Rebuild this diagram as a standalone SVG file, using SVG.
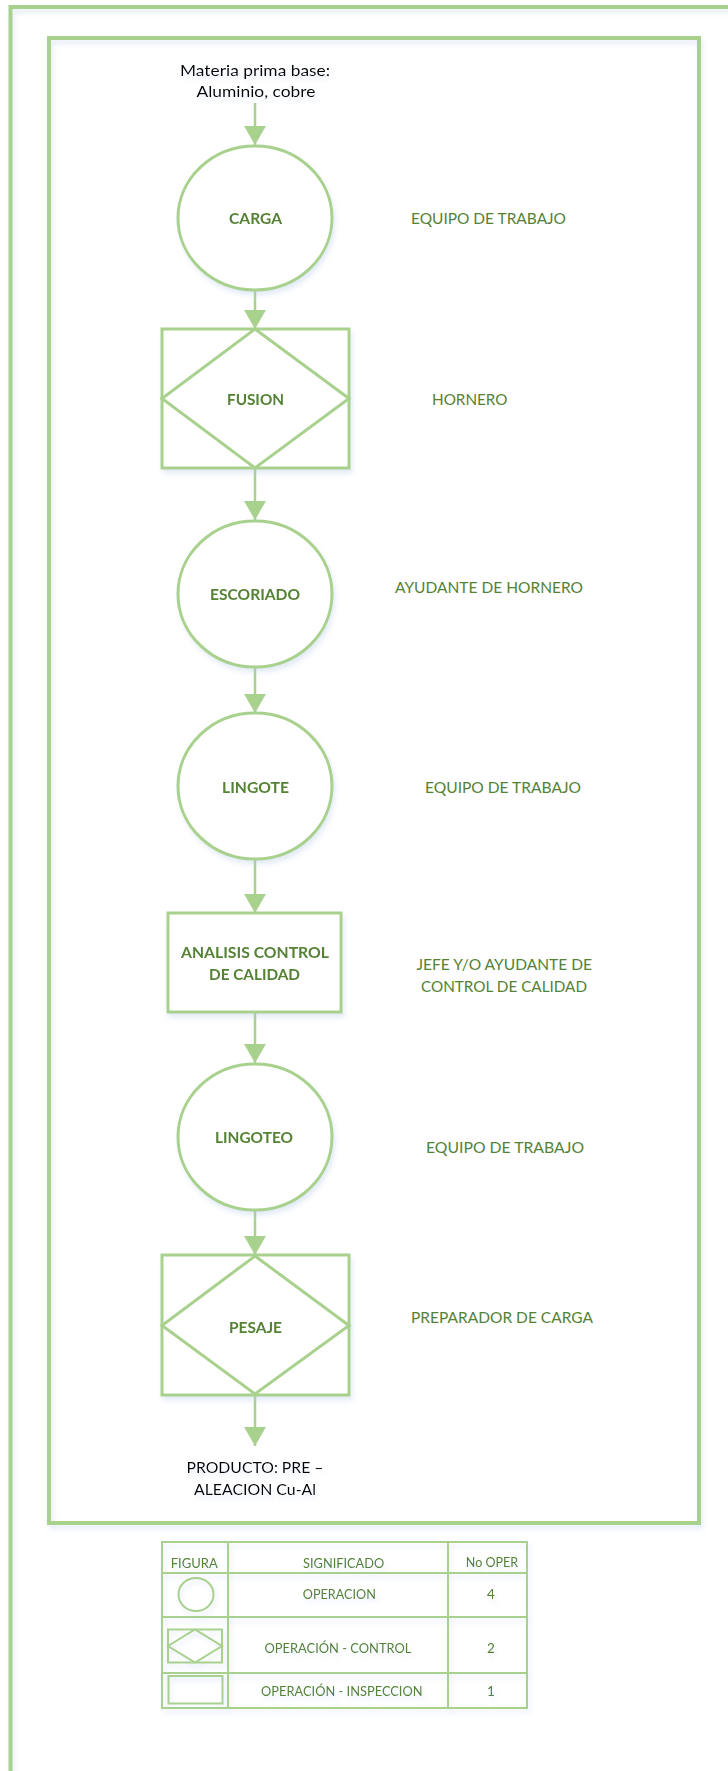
<svg xmlns="http://www.w3.org/2000/svg" width="728" height="1771" viewBox="0 0 728 1771">
  <style>
    .frame { fill: none; stroke: #A9D18E; stroke-width: 4; }
    .shape { fill: #FFFFFF; stroke: #A9D18E; stroke-width: 3; }
    .inner { fill: none; stroke: #A9D18E; stroke-width: 3; stroke-linejoin: miter; }
    .conn { stroke: #A9D18E; stroke-width: 2.5; fill: none; }
    .lbl { font-family: Lato, "Liberation Sans", sans-serif; font-weight: bold; font-size: 15px; fill: #548235; text-anchor: middle; }
    .role { font-family: Lato, "Liberation Sans", sans-serif; font-size: 15px; fill: #548235; }
    .io { font-family: Lato, "Liberation Sans", sans-serif; font-size: 16px; fill: #000000; text-anchor: middle; }
    .tbl { fill: none; stroke: #A9D18E; stroke-width: 2; }
    .tt { font-family: Lato, "Liberation Sans", sans-serif; font-size: 13.5px; fill: #548235; text-anchor: middle; }
  </style>
  <defs>
    <filter id="sh" x="-10%" y="-10%" width="130%" height="130%">
      <feDropShadow dx="2" dy="4" stdDeviation="2.5" flood-color="#B4C7E7" flood-opacity="0.35"/>
    </filter>
    <marker id="ah" markerUnits="userSpaceOnUse" markerWidth="20" markerHeight="22" refX="19" refY="11" orient="auto">
      <path d="M0,0 L19,11 L0,22 z" fill="#A9D18E"/>
    </marker>
  </defs>

  <rect width="728" height="1771" fill="#FFFFFF"/>

  <g id="frames" filter="url(#sh)">
    <rect class="frame" x="10.5" y="7" width="740" height="1775" stroke-width="3.5"/>
    <rect class="frame" x="49" y="38" width="650" height="1485"/>
  </g>

  <g id="connectors">
    <line class="conn" x1="255" y1="103" x2="255" y2="145" marker-end="url(#ah)"/>
    <line class="conn" x1="255" y1="290" x2="255" y2="329" marker-end="url(#ah)"/>
    <line class="conn" x1="255" y1="468" x2="255" y2="520" marker-end="url(#ah)"/>
    <line class="conn" x1="255" y1="667" x2="255" y2="713" marker-end="url(#ah)"/>
    <line class="conn" x1="255" y1="859" x2="255" y2="913" marker-end="url(#ah)"/>
    <line class="conn" x1="255" y1="1012" x2="255" y2="1063" marker-end="url(#ah)"/>
    <line class="conn" x1="255" y1="1210" x2="255" y2="1255" marker-end="url(#ah)"/>
    <line class="conn" x1="255" y1="1395" x2="255" y2="1446" marker-end="url(#ah)"/>
  </g>

  <g id="input" filter="url(#sh)">
    <text class="io" x="255" y="76" textLength="150" lengthAdjust="spacingAndGlyphs">Materia prima base:</text>
    <text class="io" x="256" y="96.5" textLength="119" lengthAdjust="spacingAndGlyphs">Aluminio, cobre</text>
  </g>

  <g id="carga" filter="url(#sh)">
    <ellipse class="shape" cx="255" cy="218" rx="77" ry="72"/>
    <text class="lbl" x="255.5" y="224" textLength="53" lengthAdjust="spacingAndGlyphs">CARGA</text>
  </g>
  <g id="carga-role">
    <text class="role" x="411" y="224" textLength="155" lengthAdjust="spacingAndGlyphs">EQUIPO DE TRABAJO</text>
  </g>

  <g id="fusion" filter="url(#sh)">
    <rect class="shape" x="162" y="329" width="187" height="139"/>
    <polygon class="inner" points="255,329 349,398.5 255,468 162,398.5"/>
    <text class="lbl" x="255.5" y="405" textLength="57" lengthAdjust="spacingAndGlyphs">FUSION</text>
  </g>
  <g id="fusion-role">
    <text class="role" x="432" y="405" textLength="75.5" lengthAdjust="spacingAndGlyphs">HORNERO</text>
  </g>

  <g id="escoriado" filter="url(#sh)">
    <ellipse class="shape" cx="255" cy="594" rx="77" ry="73"/>
    <text class="lbl" x="255" y="600" textLength="90" lengthAdjust="spacingAndGlyphs">ESCORIADO</text>
  </g>
  <g id="escoriado-role">
    <text class="role" x="395" y="593" textLength="188" lengthAdjust="spacingAndGlyphs">AYUDANTE DE HORNERO</text>
  </g>

  <g id="lingote" filter="url(#sh)">
    <ellipse class="shape" cx="255" cy="786" rx="77" ry="73"/>
    <text class="lbl" x="255.5" y="793" textLength="67" lengthAdjust="spacingAndGlyphs">LINGOTE</text>
  </g>
  <g id="lingote-role">
    <text class="role" x="425" y="793" textLength="156" lengthAdjust="spacingAndGlyphs">EQUIPO DE TRABAJO</text>
  </g>

  <g id="analisis" filter="url(#sh)">
    <rect class="shape" x="168" y="913" width="173" height="99"/>
    <text class="lbl" x="255" y="958" textLength="148" lengthAdjust="spacingAndGlyphs">ANALISIS CONTROL</text>
    <text class="lbl" x="254.5" y="980" textLength="91" lengthAdjust="spacingAndGlyphs">DE CALIDAD</text>
  </g>
  <g id="analisis-role">
    <text class="role" x="416.5" y="970" textLength="175.5" lengthAdjust="spacingAndGlyphs">JEFE Y/O AYUDANTE DE</text>
    <text class="role" x="421" y="992" textLength="166" lengthAdjust="spacingAndGlyphs">CONTROL DE CALIDAD</text>
  </g>

  <g id="lingoteo" filter="url(#sh)">
    <ellipse class="shape" cx="255" cy="1137" rx="77" ry="73"/>
    <text class="lbl" x="254" y="1143" textLength="78" lengthAdjust="spacingAndGlyphs">LINGOTEO</text>
  </g>
  <g id="lingoteo-role">
    <text class="role" x="426" y="1153" textLength="158" lengthAdjust="spacingAndGlyphs">EQUIPO DE TRABAJO</text>
  </g>

  <g id="pesaje" filter="url(#sh)">
    <rect class="shape" x="162" y="1255" width="187" height="140"/>
    <polygon class="inner" points="255,1256 349,1325.5 255,1394 162,1325.5"/>
    <text class="lbl" x="255.5" y="1333" textLength="53" lengthAdjust="spacingAndGlyphs">PESAJE</text>
  </g>
  <g id="pesaje-role">
    <text class="role" x="411" y="1323" textLength="182" lengthAdjust="spacingAndGlyphs">PREPARADOR DE CARGA</text>
  </g>

  <g id="output" filter="url(#sh)">
    <text class="io" x="255" y="1473" textLength="137" lengthAdjust="spacingAndGlyphs">PRODUCTO: PRE –</text>
    <text class="io" x="255" y="1495" textLength="122" lengthAdjust="spacingAndGlyphs">ALEACION Cu-Al</text>
  </g>

  <g id="legend" filter="url(#sh)">
    <rect x="162" y="1542" width="365" height="166" fill="#FFFFFF" class="tbl"/>
    <line class="tbl" x1="228" y1="1542" x2="228" y2="1708"/>
    <line class="tbl" x1="448" y1="1542" x2="448" y2="1708"/>
    <line class="tbl" x1="162" y1="1573" x2="527" y2="1573"/>
    <line class="tbl" x1="162" y1="1617" x2="527" y2="1617"/>
    <line class="tbl" x1="162" y1="1673" x2="527" y2="1673"/>
    <text class="tt" x="194.2" y="1568" textLength="47" lengthAdjust="spacingAndGlyphs">FIGURA</text>
    <text class="tt" x="343.6" y="1568" textLength="81" lengthAdjust="spacingAndGlyphs">SIGNIFICADO</text>
    <text class="tt" x="492" y="1567" textLength="52.5" lengthAdjust="spacingAndGlyphs">No OPER</text>
    <ellipse class="tbl" cx="196" cy="1594.5" rx="17.5" ry="16.5"/>
    <text class="tt" x="339.3" y="1599" textLength="73" lengthAdjust="spacingAndGlyphs">OPERACION</text>
    <text class="tt" x="491" y="1599">4</text>
    <rect class="tbl" x="168" y="1629.5" width="54" height="33"/>
    <polygon class="tbl" points="168,1646 195,1629.5 222,1646 195,1662.5"/>
    <text class="tt" x="338" y="1653" textLength="147" lengthAdjust="spacingAndGlyphs">OPERACIÓN - CONTROL</text>
    <text class="tt" x="491" y="1653">2</text>
    <rect class="tbl" x="168.5" y="1676" width="54" height="27.5"/>
    <text class="tt" x="341.8" y="1696" textLength="161.5" lengthAdjust="spacingAndGlyphs">OPERACIÓN - INSPECCION</text>
    <text class="tt" x="491" y="1696">1</text>
  </g>
</svg>
